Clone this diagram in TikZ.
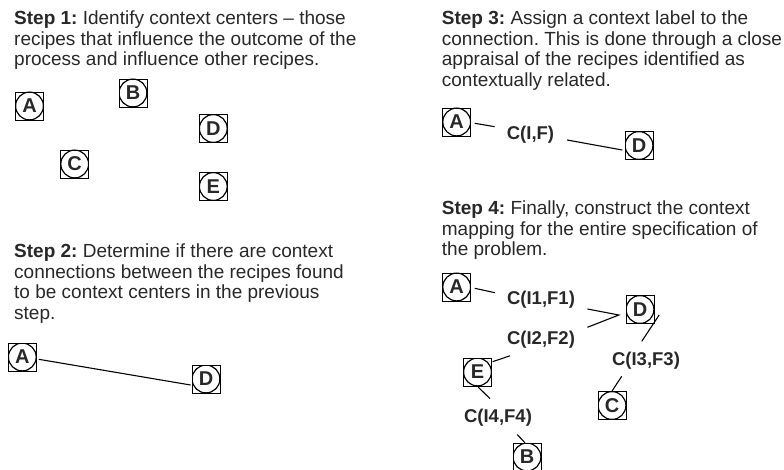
\documentclass[tikz,border=0pt]{standalone}
\usepackage{fontspec}
\setmainfont{Liberation Sans}
\definecolor{txt}{RGB}{40,40,40}
\tikzset{
  stepbox/.style={anchor=north west, inner sep=0pt, align=left, text=txt,
    font=\fontsize{19}{20.7}\selectfont\frenchspacing},
  rc/.style={draw=black, line width=0.9pt, rectangle, minimum size=28pt, inner sep=0pt,
    text=txt, font=\fontsize{20}{20}\selectfont\bfseries,
    path picture={\draw[black, line width=1.2pt] (path picture bounding box.center) circle[radius=13.9pt];}},
  ctx/.style={inner sep=0pt, text=txt, font=\fontsize{18.5}{18.5}\selectfont\bfseries},
  con/.style={draw=black, line width=1.1pt}
}
\begin{document}
\begin{tikzpicture}[x=1pt, y=-1pt]
\useasboundingbox (0,0) rectangle (784,470);
% Step texts
\node[stepbox] (t1) at (14,10.5) {\textbf{Step 1:} Identify context centers -- those\\recipes that influence the outcome of the\\process and influence other recipes.};
\node[stepbox] (t2) at (14,243.5) {\textbf{Step 2:} Determine if there are context\\connections between the recipes found\\to be context centers in the previous\\step.};
\node[stepbox] (t3) at (441.7,10.5) {\textbf{Step 3:} Assign a context label to the\\connection. This is done through a close\\appraisal of the recipes identified as\\contextually related.};
\node[stepbox] (t4) at (441.7,200.5) {\textbf{Step 4:} Finally, construct the context\\mapping for the entire specification of\\the problem.};
% Step 1
\node[rc] (A1) at (29.5,106) {A};
\node[rc] (B1) at (133,93) {B};
\node[rc] (D1) at (213.3,128.5) {D};
\node[rc] (C1) at (74.7,164) {C};
\node[rc] (E1) at (213.3,186.5) {E};
% Step 2
\node[rc] (A2) at (22.3,357) {A};
\node[rc] (D2) at (206,379) {D};
\draw[con] ([shift={(2,2.3)}]A2.east) -- ([shift={(-1,6)}]D2.west);
% Step 3
\node[rc] (A3) at (456.7,122) {A};
\node[ctx] (CIF) at (530.5,134.7) {C(I,F)};
\node[rc] (D3) at (639,145.5) {D};
\draw[con] ([shift={(3.6,1.3)}]A3.east) -- ([shift={(-12,-8)}]CIF.west);
\draw[con] ([shift={(12.7,5.3)}]CIF.east) -- ([shift={(-2.3,4.5)}]D3.west);
% Step 4
\node[rc] (A4) at (456.7,287) {A};
\node[ctx] (CI1) at (541,299.5) {C(I1,F1)};
\node[ctx] (CI2) at (541,340) {C(I2,F2)};
\node[rc] (D4) at (640,309.5) {D};
\node[ctx] (CI3) at (646,360.5) {C(I3,F3)};
\node[rc] (C4) at (612,405.5) {C};
\node[rc] (E4) at (477.5,372) {E};
\node[ctx] (CI4) at (498,417.5) {C(I4,F4)};
\node[rc] (B4) at (527,457) {B};
\coordinate (J) at ([shift={(-6.7,5.5)}]D4.west);
\draw[con] ([shift={(3.6,1.3)}]A4.east) -- ([shift={(-12,-6.8)}]CI1.west);
\draw[con] ([shift={(12.3,9.5)}]CI1.east) -- (J) -- ([shift={(12.3,-12.7)}]CI2.east);
\draw[con] ([shift={(4.7,5.5)}]D4.east) -- ([shift={(-4.3,-10.3)}]CI3.north);
\draw[con] ([shift={(-24.3,7)}]CI3.south) -- (C4.north);
\draw[con] ([shift={(0.7,-10.3)}]E4.east) -- ([shift={(3,7)}]CI2.south west);
\draw[con] ([shift={(0.8,0.7)}]E4.south) -- ([shift={(-8,-10)}]CI4.north);
\draw[con] ([shift={(19.3,8.3)}]CI4.south) -- ([shift={(-2,0.3)}]B4.north);
\end{tikzpicture}
\end{document}
